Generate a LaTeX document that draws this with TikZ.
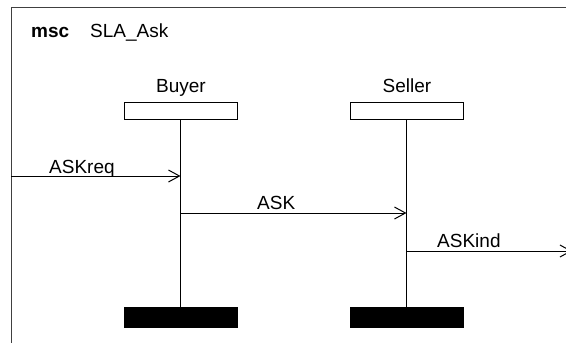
\documentclass[tikz,border=0pt]{standalone}
\usepackage{fontspec}
\setmainfont{Liberation Sans}
\usetikzlibrary{arrows.meta}
\begin{document}
\begin{tikzpicture}[x=1pt,y=-1pt,
  lbl/.style={font=\fontsize{19}{23}\selectfont, inner sep=0pt, anchor=base},
  msglbl/.style={font=\fontsize{19}{23}\selectfont, inner sep=0pt, anchor=base west},
  headbox/.style={draw, line width=1pt, minimum width=113pt, minimum height=17pt, inner sep=0pt},
  endbar/.style={draw, fill=black, line width=1pt, minimum width=113pt, minimum height=20pt, inner sep=0pt},
  life/.style={line width=1pt},
  msg/.style={line width=1pt, -{Straight Barb[length=11pt,width=12pt,line width=1pt]}},
  frameline/.style={line width=1pt, draw=black!75}]
\useasboundingbox (0,0) rectangle (566,343);
\clip (0,0) rectangle (566,343);
% frame
\coordinate (fbl) at (11,360);
\coordinate (ftl) at (11,7);
\coordinate (ftr) at (580,7);
\draw[frameline] (fbl) -- (ftl) -- (ftr);
\node[lbl, anchor=base west, font=\fontsize{19}{23}\selectfont\bfseries] (msc) at (31,37) {msc};
\node[lbl, anchor=base west] (name) at (90,37) {SLA\_Ask};
% instances
\node[lbl] (buyerlbl) at (181,92) {Buyer};
\node[lbl] (sellerlbl) at (407,92) {Seller};
\node[headbox] (buyer) at (180.5,110.5) {};
\node[headbox] (seller) at (406.5,110.5) {};
\node[endbar] (buyerend) at (180.5,317) {};
\node[endbar] (sellerend) at (406.5,317) {};
\draw[life] (buyer.south) -- (buyerend.north);
\draw[life] (seller.south) -- (sellerend.north);
% messages
\coordinate (env1) at (11,176);
\coordinate (b1) at (buyer.south |- 0,176);
\coordinate (b2) at (buyer.south |- 0,213);
\coordinate (s2) at (seller.south |- 0,213);
\coordinate (s3) at (seller.south |- 0,251);
\coordinate (env2) at (572,251);
\draw[msg] (env1) -- (b1);
\draw[msg] (b2) -- (s2);
\draw[msg] (s3) -- (env2);
\node[msglbl] (m1) at (49,173) {ASKreq};
\node[msglbl] (m2) at (257,209) {ASK};
\node[msglbl] (m3) at (437,247) {ASKind};
\end{tikzpicture}
\end{document}
